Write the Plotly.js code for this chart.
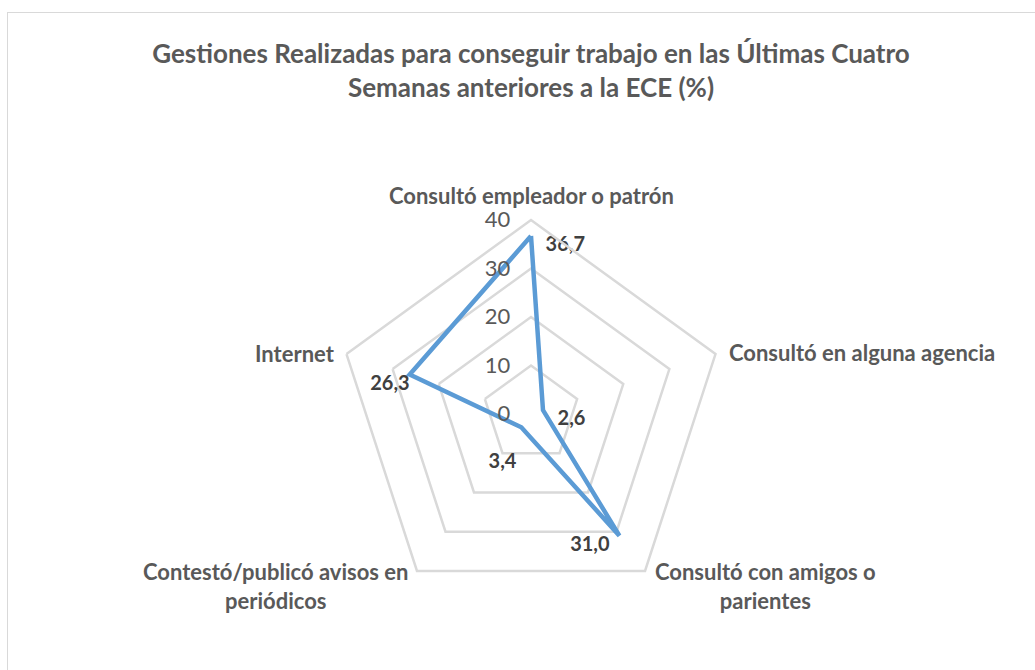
<!DOCTYPE html>
<html>
<head>
<meta charset="utf-8">
<script src="https://cdn.plot.ly/plotly-3.0.1.min.js"></script>
<style>
  html, body { margin: 0; padding: 0; background: #fff; overflow: hidden; }
  #frame { position: absolute; left: 7px; top: 12px; width: 1040px; height: 700px; border: 1px solid #d9d9d9; box-sizing: border-box; }
  #chart { position: absolute; left: 0; top: 0; width: 1035px; height: 670px; }
</style>
</head>
<body>
<div id="frame"></div>
<div id="chart"></div>
<script>
const categories = [
  "Consultó empleador o patrón",
  "Consultó en alguna agencia",
  "Consultó con amigos o<br>parientes",
  "Contestó/publicó avisos en<br>periódicos",
  "Internet"
];
const values = [36.7, 2.6, 31.0, 3.4, 26.3];
const valueLabels = ["\u00a0\u00a0\u00a036,7", "\u00a0\u00a0\u00a02,6", "31,0\u00a0\u00a0", "<br>3,4\u00a0", "26,3"];
const radialTicks = [0, 10, 20, 30, 40];
const radialTickText = ["0", "10", "20", "30", "40"];
const labelPositions = ["bottom right", "bottom right", "bottom left", "bottom left", "bottom left"];

// category label placement (paper px): [x, y, xanchor]
const catLabelPos = [
  [531, 195, "center"],
  [727, 352, "left"],
  [765, 586, "center"],
  [275, 586, "center"],
  [337, 353, "right"]
];

const FONT = "Lato, 'Open Sans', sans-serif";
const W = 1035, H = 670;
const PAD = "\u00a0\u00a0\u00a0";

const trace = {
  type: "scatterpolar",
  r: values.concat([values[0]]),
  theta: categories.concat([categories[0]]),
  text: valueLabels.concat([""]),
  mode: "lines+text",
  textposition: labelPositions.concat(["top center"]),
  textfont: { family: FONT, size: 20, color: "#404040", weight: "bold" },
  line: { color: "#5b9bd5", width: 4.5 },
  hoverinfo: "skip",
  cliponaxis: false,
  showlegend: false
};

const annotations = categories.map((c, i) => ({
  xref: "paper", yref: "paper",
  x: catLabelPos[i][0] / W,
  y: 1 - catLabelPos[i][1] / H,
  xanchor: catLabelPos[i][2],
  yanchor: "middle",
  align: "center",
  showarrow: false,
  text: "<b>" + c + "</b>",
  font: { family: FONT, size: 22, color: "#595959" }
}));

const layout = {
  width: W,
  height: H,
  margin: { l: 0, r: 0, t: 0, b: 0 },
  paper_bgcolor: "rgba(0,0,0,0)",
  plot_bgcolor: "rgba(0,0,0,0)",
  showlegend: false,
  title: {
    text: "<b>Gestiones Realizadas para conseguir trabajo en las Últimas Cuatro<br>Semanas anteriores a la ECE (%)</b>",
    font: { family: FONT, size: 26, color: "#595959" },
    x: 531 / W, xanchor: "center",
    y: 1 - 63 / H, yanchor: "middle"
  },
  annotations: annotations,
  polar: {
    domain: { x: [337 / W, 725 / W], y: [1 - 608 / H, 1 - 220 / H] },
    gridshape: "linear",
    bgcolor: "rgba(0,0,0,0)",
    radialaxis: {
      range: [0, 40],
      tickvals: radialTicks,
      ticktext: radialTickText.map(t => t + PAD),
      angle: 90,
      tickangle: 90,
      side: "counterclockwise",
      showline: false,
      ticks: "",
      tickfont: { family: FONT, size: 22, color: "#595959" },
      gridcolor: "#d9d9d9",
      gridwidth: 2.5
    },
    angularaxis: {
      rotation: 90,
      direction: "clockwise",
      showgrid: false,
      showline: true,
      showticklabels: false,
      linecolor: "#d9d9d9",
      linewidth: 2.5,
      ticks: ""
    }
  }
};

Plotly.newPlot("chart", [trace], layout, { displayModeBar: false, staticPlot: true });
</script>
</body>
</html>
